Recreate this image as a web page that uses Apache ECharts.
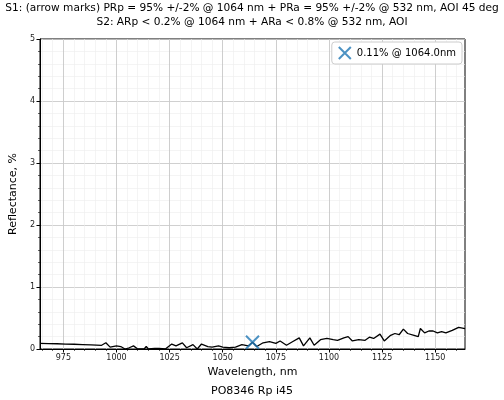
<!DOCTYPE html>
<html><head><meta charset="utf-8">
<script src="https://cdn.jsdelivr.net/npm/echarts@6/dist/echarts.min.js"></script>
<style>html,body{margin:0;padding:0;background:#fff}#c{width:504px;height:400px}</style>
</head><body><div id="c"></div>
<script>
const wavelengths = [964,968,972,976,980,984,988,993,995,997,1000,1002,1004,1006,1008,1010,1013,1014,1015,1018,1020,1023,1026,1028,1031,1033,1036,1038,1040,1043,1045,1048,1050,1053,1056,1059,1062,1064,1066,1069,1072,1075,1077,1080,1083,1086,1088,1091,1093,1096,1099,1102,1104,1107,1109,1111,1114,1117,1119,1121,1124,1126,1129,1131,1133,1135,1137,1140,1142,1143,1145,1147,1149,1151,1153,1155,1158,1161,1164];
const reflectance = [0.09,0.088,0.085,0.08,0.077,0.072,0.067,0.06,0.1,0.03,0.05,0.04,0.0,0.02,0.05,0.0,0.0,0.04,0.0,0.01,0.01,0.0,0.08,0.05,0.1,0.02,0.07,0.0,0.08,0.04,0.03,0.05,0.03,0.02,0.03,0.07,0.05,0.11,0.04,0.1,0.12,0.09,0.13,0.06,0.12,0.18,0.05,0.18,0.06,0.15,0.17,0.15,0.14,0.18,0.2,0.13,0.15,0.14,0.19,0.17,0.24,0.13,0.22,0.25,0.23,0.32,0.25,0.22,0.2,0.33,0.26,0.29,0.29,0.26,0.28,0.26,0.3,0.35,0.33];
const markerPoint = [1064, 0.11];
const xMajorTicks = [975,1000,1025,1050,1075,1100,1125,1150];
const xMinorTicks = [965,970,975,980,985,990,995,1000,1005,1010,1015,1020,1025,1030,1035,1040,1045,1050,1055,1060,1065,1070,1075,1080,1085,1090,1095,1100,1105,1110,1115,1120,1125,1130,1135,1140,1145,1150,1155,1160];
const titleText = 'S1: (arrow marks) PRp = 95% +/-2% @ 1064 nm + PRa = 95% +/-2% @ 532 nm, AOI 45 deg\nS2: ARp < 0.2% @ 1064 nm + ARa < 0.8% @ 532 nm, AOI';
const legendLabel = '0.11% @ 1064.0nm';

const font = 'DejaVu Sans';
const chart = echarts.init(document.getElementById('c'));
const xPath = 'path://M0,0L10,10M10,0L0,10';
chart.setOption({
  animation: false,
  textStyle: {fontFamily: font},
  title: [
    {text: titleText, left: 'center', top: 1, padding: 0, textStyle: {fontFamily: font, fontSize: 10.6, fontWeight: 'normal', color: '#000', lineHeight: 14}},
    {text: 'PO8346 Rp i45', left: 'center', top: 381, textStyle: {fontFamily: font, fontSize: 11, fontWeight: 'normal', color: '#000'}}
  ],
  grid: {left: 38, right: 39, top: 39, bottom: 51, show: true, borderColor: '#000', borderWidth: 1, backgroundColor: 'transparent'},
  legend: {
    right: 42, top: 42, orient: 'vertical',
    backgroundColor: '#fff', borderColor: '#ccc', borderWidth: 1, borderRadius: 3,
    padding: [4, 6, 4, 6], itemWidth: 14, itemHeight: 12, itemGap: 4,
    textStyle: {fontFamily: font, fontSize: 10, color: '#000'},
    data: [{name: legendLabel, icon: xPath, itemStyle: {color: 'transparent', borderColor: '#1f77b4', borderWidth: 2}}]
  },
  xAxis: [
    {
      type: 'value', min: 964, max: 1164,
      name: 'Wavelength, nm', nameLocation: 'middle', nameGap: 16,
      nameTextStyle: {fontFamily: font, fontSize: 11, color: '#000'},
      axisLine: {show: true, onZero: false, lineStyle: {color: '#000', width: 1}},
      axisTick: {show: true, length: 3.5, inside: false, customValues: xMajorTicks, lineStyle: {color: '#000'}},
      axisLabel: {customValues: xMajorTicks, formatter: v => String(v), fontFamily: font, fontSize: 8, color: '#222', margin: 5},
      splitLine: {show: true, lineStyle: {color: '#c4c4c4', width: 0.8}},
      z: 3
    },
    {
      type: 'value', min: 964, max: 1164, position: 'bottom',
      axisLine: {show: false},
      axisTick: {show: true, length: 2, customValues: xMinorTicks, lineStyle: {color: '#000', width: 0.6}},
      axisLabel: {show: false},
      splitLine: {show: true, lineStyle: {color: '#ececec', width: 0.6}},
      z: 1
    }
  ],
  yAxis: {
    type: 'value', min: 0, max: 5, interval: 1,
    name: 'Reflectance, %', nameLocation: 'middle', nameGap: 18, nameRotate: 90,
    nameTextStyle: {fontFamily: font, fontSize: 11, color: '#000'},
    axisLine: {show: true, lineStyle: {color: '#000'}},
    axisTick: {show: true, length: 3.5, lineStyle: {color: '#000'}},
    minorTick: {show: true, splitNumber: 5, length: 2, lineStyle: {color: '#000', width: 0.6}},
    axisLabel: {fontFamily: font, fontSize: 8, color: '#222', margin: 5},
    splitLine: {show: true, lineStyle: {color: '#c4c4c4', width: 0.8}},
    minorSplitLine: {show: true, lineStyle: {color: '#ececec', width: 0.6}}
  },
  series: [
    {
      type: 'line', xAxisIndex: 0, data: wavelengths.map((w, i) => [w, reflectance[i]]),
      showSymbol: false, symbol: 'none', lineStyle: {color: '#000', width: 1.3}, z: 4, silent: true
    },
    {
      type: 'scatter', name: legendLabel, xAxisIndex: 0, data: [markerPoint],
      symbol: xPath, symbolSize: 13,
      itemStyle: {color: 'transparent', borderColor: '#1f77b4', borderWidth: 2}, z: 5
    }
  ]
});
</script></body></html>
